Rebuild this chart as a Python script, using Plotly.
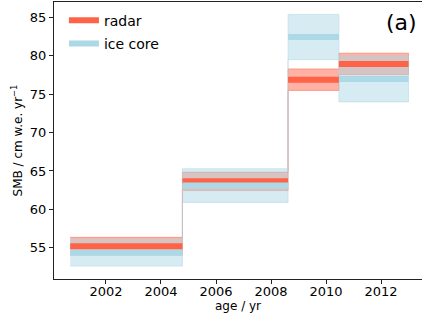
import plotly.graph_objects as go

# ---- data ----
age_edges = [2000.7, 2004.78, 2008.62, 2010.47, 2013.0]
radar_smb = [55.2, 63.65, 76.9, 78.95]
radar_err = [1.15, 1.2, 1.4, 1.4]
ice_smb = [54.35, 63.1, 82.45, 77.0]
ice_err = [1.75, 2.2, 2.95, 3.0]
x_ticks = [2002, 2004, 2006, 2008, 2010, 2012]
y_ticks = [55, 60, 65, 70, 75, 80, 85]

RADAR = "rgb(255,99,71)"
RADAR_FILL = "rgba(255,99,71,0.5)"
ICE = "rgb(173,216,230)"
ICE_FILL = "rgba(173,216,230,0.5)"
FONT = "DejaVu Sans"


def step_band(edges, mid, err):
    n = len(mid)
    hi = [m + e for m, e in zip(mid, err)]
    lo = [m - e for m, e in zip(mid, err)]
    xs = [edges[i] for i in range(n)] + [edges[n], edges[n]] + \
         [edges[i] for i in range(n - 1, -1, -1)]
    ys = [hi[i] for i in range(n)] + [hi[n - 1], lo[n - 1]] + \
         [lo[max(i - 1, 0)] for i in range(n - 1, -1, -1)]
    return xs, ys


def segments(edges, vals):
    xs, ys = [], []
    for i, v in enumerate(vals):
        xs += [edges[i], edges[i + 1], None]
        ys += [v, v, None]
    return xs, ys


fig = go.Figure()

bx, by = step_band(age_edges, radar_smb, radar_err)
fig.add_trace(go.Scatter(x=bx, y=by, mode="lines", fill="toself",
                         fillcolor=RADAR_FILL, line=dict(color=RADAR_FILL, width=1, shape="hv"),
                         showlegend=False, hoverinfo="skip"))
bx, by = step_band(age_edges, ice_smb, ice_err)
fig.add_trace(go.Scatter(x=bx, y=by, mode="lines", fill="toself",
                         fillcolor=ICE_FILL, line=dict(color=ICE_FILL, width=1, shape="hv"),
                         showlegend=False, hoverinfo="skip"))

lx, ly = segments(age_edges, radar_smb)
fig.add_trace(go.Scatter(x=lx, y=ly, mode="lines", name="radar",
                         line=dict(color=RADAR, width=6), legendgroup="r"))
lx, ly = segments(age_edges, ice_smb)
fig.add_trace(go.Scatter(x=lx, y=ly, mode="lines", name="ice core",
                         line=dict(color=ICE, width=6), legendgroup="i"))

fig.add_annotation(text="(a)", xref="paper", yref="paper", x=1, y=1,
                   xanchor="right", yanchor="top", xshift=-3, yshift=-6,
                   showarrow=False, font=dict(size=22, color="black", family=FONT))

axis_common = dict(showline=True, linecolor="#222", linewidth=1, mirror=True,
                   ticks="outside", ticklen=4, tickwidth=1, tickcolor="#222",
                   showgrid=False, zeroline=False,
                   tickfont=dict(size=13, color="black", family=FONT))

fig.update_xaxes(range=[2000.11, 2013.49], tickvals=x_ticks, ticklabelstandoff=-4,
                 title=dict(text="age / yr", standoff=4,
                            font=dict(size=12, color="black", family=FONT)),
                 automargin=False, **axis_common)
fig.update_yaxes(range=[50.92, 87.02], tickvals=y_ticks,
                 title=dict(text="SMB / cm w.e. yr<sup>\u22121</sup>", standoff=4,
                            font=dict(size=12, color="black", family=FONT)),
                 automargin=False, **axis_common)

fig.update_layout(
    width=422, height=313,
    margin=dict(l=54, r=0, t=2, b=34),
    plot_bgcolor="white", paper_bgcolor="white",
    font=dict(family=FONT, color="black"),
    showlegend=True,
    legend=dict(x=0.027, y=0.99, xanchor="left", yanchor="top",
                bgcolor="rgba(0,0,0,0)", font=dict(size=14, color="black", family=FONT),
                itemwidth=30, tracegroupgap=2),
)

fig.write_html(
    "out.html",
    config={"displayModeBar": False},
    post_script="document.body.style.margin='0';document.body.style.padding='0';"
                "document.body.style.overflow='hidden';",
)
